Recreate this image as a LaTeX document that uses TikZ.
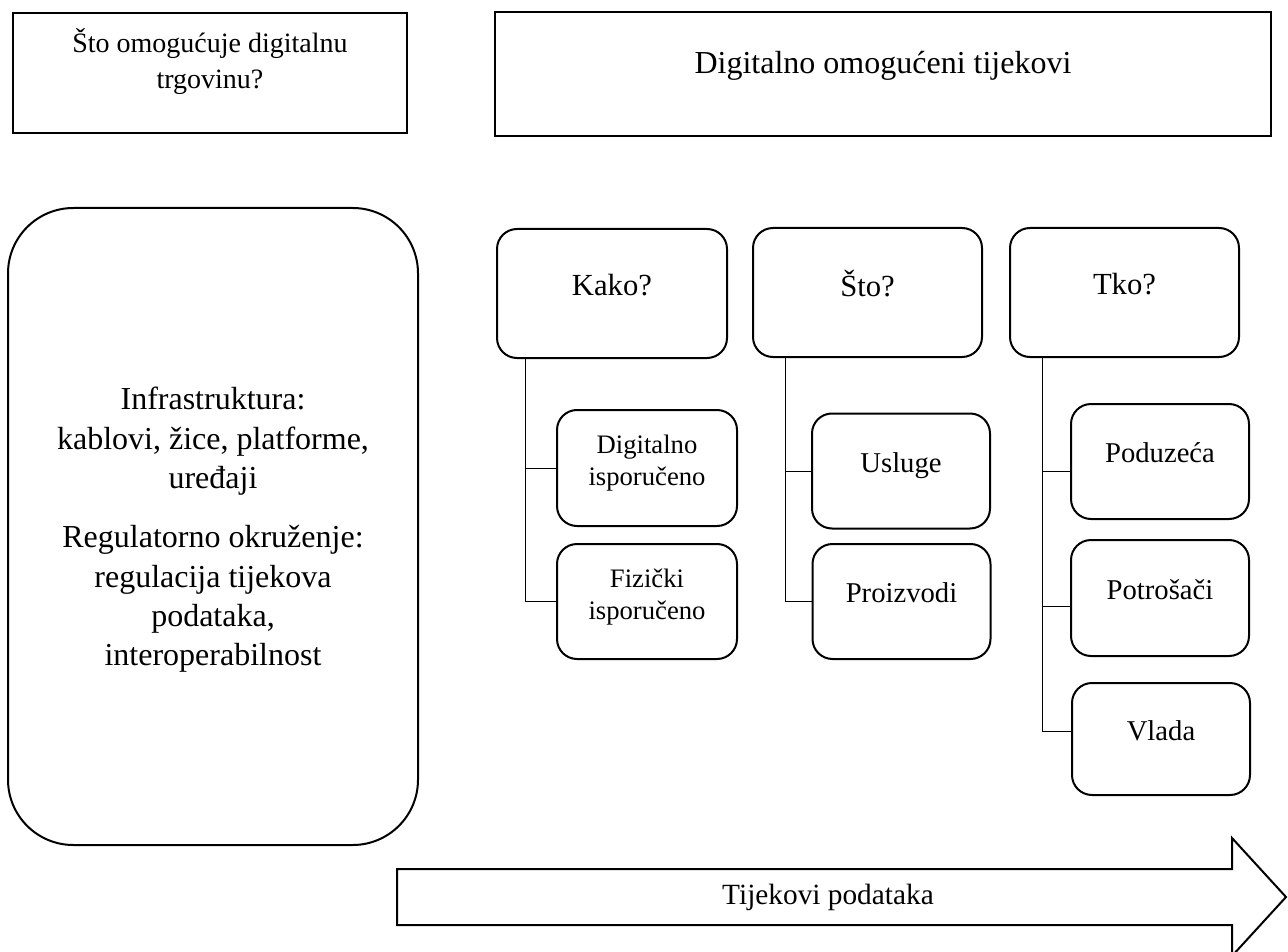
\documentclass[tikz,border=0pt]{standalone}
\usepackage{fontspec}
\setmainfont{Liberation Serif}
\usepackage{tikz}

\begin{document}
\begin{tikzpicture}[x=0.75pt,y=-0.75pt,
    plain/.style={draw,line width=1.5pt,align=center,inner sep=0pt},
    round/.style={plain,rounded corners=15pt},
    txtup/.style={text depth=#1},
    head/.style={font=\fontsize{23pt}{28pt}\selectfont},
    leaf/.style={font=\fontsize{21.5pt}{24pt}\selectfont}]
    \useasboundingbox (0,0) rectangle (1288,952);
    % top row
    \node[plain,minimum width=295.5pt,minimum height=90pt,txtup=22pt,font=\fontsize{21pt}{26.5pt}\selectfont] (pitanje) at (210,73) {Što omogućuje digitalnu\\trgovinu?};
    \node[plain,minimum width=582pt,minimum height=93pt,txtup=17pt,font=\fontsize{24pt}{28pt}\selectfont] (tokovi) at (883,74) {Digitalno omogućeni tijekovi};
    % left column
    \node[plain,rounded corners=49pt,minimum width=307.5pt,minimum height=477.75pt,txtup=-11pt,font=\fontsize{24pt}{29.5pt}\selectfont] (infra) at (213,526.5) {Infrastruktura:\\kablovi, žice, platforme,\\uređaji\\[15pt]Regulatorno okruženje:\\regulacija tijekova\\podataka,\\interoperabilnost};
    % questions
    \node[round,head,minimum width=172.5pt,minimum height=96.75pt,txtup=13.5pt] (kako) at (612,293.5) {Kako?};
    \node[round,head,minimum width=171.75pt,minimum height=96.75pt,txtup=13.5pt] (sto) at (867.5,292.5) {Što?};
    \node[round,head,minimum width=171.75pt,minimum height=96.75pt,txtup=13.5pt] (tko) at (1124.5,292.5) {Tko?};
    % answers
    \node[round,leaf,font=\fontsize{20pt}{24pt}\selectfont,minimum width=135pt,minimum height=87pt,txtup=11pt] (dig) at (647,468) {Digitalno\\isporučeno};
    \node[round,leaf,font=\fontsize{20pt}{24pt}\selectfont,minimum width=135pt,minimum height=86.25pt,txtup=11pt] (fiz) at (647,601.5) {Fizički\\isporučeno};
    \node[round,leaf,minimum width=133.5pt,minimum height=86.25pt,txtup=13pt] (usl) at (901,471) {Usluge};
    \node[round,leaf,minimum width=133.5pt,minimum height=86.25pt,txtup=13pt] (pro) at (901.5,601.5) {Proizvodi};
    \node[round,leaf,minimum width=133.5pt,minimum height=86.25pt,txtup=13pt] (pod) at (1160,461.5) {Poduzeća};
    \node[round,leaf,minimum width=133.5pt,minimum height=87pt,txtup=13pt] (pot) at (1160,598) {Potrošači};
    \node[round,leaf,minimum width=133.5pt,minimum height=84pt,txtup=13pt] (vla) at (1161,739) {Vlada};
    % tree lines
    \coordinate (k) at ([xshift=21.75pt]kako.south west);
    \coordinate (s) at ([xshift=24.75pt]sto.south west);
    \coordinate (t) at ([xshift=24.75pt]tko.south west);
    \coordinate (podl) at ([yshift=-7.5pt]pod.west);
    \coordinate (potl) at ([yshift=-6pt]pot.west);
    \coordinate (vlal) at ([yshift=6pt]vla.west);
    \draw[-,line width=0.75pt] (k) |- (fiz.west);
    \draw[-,line width=0.75pt] (k |- dig.west) to (dig.west);
    \draw[-,line width=0.75pt] (s) |- (pro.west);
    \draw[-,line width=0.75pt] (s |- usl.west) to (usl.west);
    \draw[-,line width=0.75pt] (t) |- (vlal);
    \draw[-,line width=0.75pt] (t |- podl) to (podl);
    \draw[-,line width=0.75pt] (t |- potl) to (potl);
    % data flow arrow
    \draw[line width=1.5pt] (397,869) -- (1232,869) -- (1232,838) -- (1286,897) -- (1232,956) -- (1232,925) -- (397,925) -- cycle;
    \node[font=\fontsize{22pt}{26pt}\selectfont] (flow) at (828,897) {Tijekovi podataka};
\end{tikzpicture}
\end{document}
